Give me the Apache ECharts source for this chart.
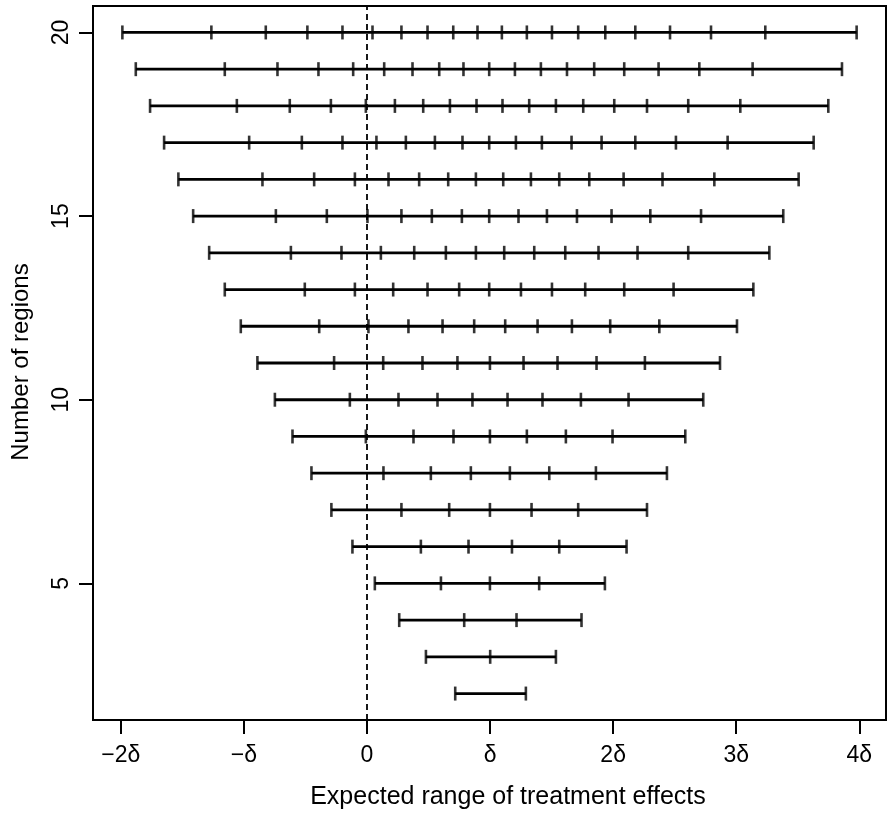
<!DOCTYPE html>
<html><head><meta charset="utf-8">
<script src="https://cdn.jsdelivr.net/npm/echarts@6/dist/echarts.min.js"></script>
<style>html,body{margin:0;padding:0;background:#fff}#c{width:888px;height:813px}</style>
</head><body><div id="c"></div>
<script>
// Expected positions (in units of delta) of the ordered treatment effects, one row per number of regions
const r2  = [0.717, 1.291];
const r3  = [0.479, 1.001, 1.535];
const r4  = [0.262, 0.790, 1.215, 1.743];
const r5  = [0.064, 0.601, 0.999, 1.399, 1.933];
const r6  = [-0.118, 0.438, 0.825, 1.178, 1.562, 2.109];
const r7  = [-0.289, 0.280, 0.668, 0.999, 1.337, 1.716, 2.275];
const r8  = [-0.451, 0.134, 0.519, 0.844, 1.161, 1.481, 1.860, 2.437];
const r9  = [-0.605, -0.009, 0.378, 0.703, 0.999, 1.299, 1.616, 1.995, 2.586];
const r10 = [-0.748, -0.139, 0.256, 0.573, 0.857, 1.142, 1.426, 1.738, 2.125, 2.732];
const r11 = [-0.890, -0.267, 0.132, 0.451, 0.735, 0.999, 1.272, 1.548, 1.865, 2.258, 2.868];
const r12 = [-1.025, -0.388, 0.012, 0.337, 0.614, 0.871, 1.123, 1.386, 1.665, 1.976, 2.375, 3.006];
const r13 = [-1.155, -0.505, -0.098, 0.213, 0.492, 0.749, 0.993, 1.251, 1.503, 1.773, 2.090, 2.491, 3.139];
const r14 = [-1.282, -0.618, -0.207, 0.113, 0.384, 0.641, 0.885, 1.115, 1.359, 1.611, 1.881, 2.198, 2.610, 3.269];
const r15 = [-1.412, -0.740, -0.326, 0.004, 0.280, 0.527, 0.771, 0.993, 1.231, 1.462, 1.706, 1.987, 2.302, 2.714, 3.382];
const r16 = [-1.532, -0.849, -0.429, -0.098, 0.175, 0.424, 0.660, 0.885, 1.107, 1.332, 1.562, 1.806, 2.085, 2.401, 2.822, 3.507];
const r17 = [-1.648, -0.957, -0.529, -0.199, 0.077, 0.316, 0.552, 0.776, 0.993, 1.210, 1.421, 1.662, 1.906, 2.180, 2.510, 2.930, 3.629];
const r18 = [-1.762, -1.057, -0.627, -0.293, -0.009, 0.227, 0.457, 0.674, 0.890, 1.101, 1.318, 1.535, 1.757, 2.009, 2.275, 2.610, 3.033, 3.748];
const r19 = [-1.878, -1.155, -0.727, -0.394, -0.112, 0.140, 0.370, 0.587, 0.784, 0.993, 1.202, 1.413, 1.625, 1.846, 2.090, 2.369, 2.700, 3.133, 3.859];
const r20 = [-1.987, -1.264, -0.822, -0.484, -0.199, 0.045, 0.280, 0.492, 0.701, 0.898, 1.096, 1.299, 1.503, 1.716, 1.936, 2.180, 2.462, 2.795, 3.236, 3.978];

const regionCounts = [2, 3, 4, 5, 6, 7, 8, 9, 10, 11, 12, 13, 14, 15, 16, 17, 18, 19, 20];
const rowTicks = [r2, r3, r4, r5, r6, r7, r8, r9, r10, r11, r12, r13, r14, r15, r16, r17, r18, r19, r20];

const xTickValues = [-2, -1, 0, 1, 2, 3, 4];
const xTickLabels = ['\u22122\u03b4', '\u2212\u03b4', '0', '\u03b4', '2\u03b4', '3\u03b4', '4\u03b4'];
const yTickValues = [5, 10, 15, 20];
const refLineX = 0;
const xTitle = 'Expected range of treatment effects';
const yTitle = 'Number of regions';

const FONT = '"Liberation Sans", Arial, Helvetica, sans-serif';

// R-style 4% axis extension computed from the data
const allX = rowTicks.flat();
const xMinD = Math.min(...allX), xMaxD = Math.max(...allX);
const xExt = (xMaxD - xMinD) * 0.04;
const yMinD = Math.min(...regionCounts), yMaxD = Math.max(...regionCounts);
const yExt = (yMaxD - yMinD) * 0.04;

const chart = echarts.init(document.getElementById('c'), null, {renderer: 'canvas'});

const series = [];
regionCounts.forEach((k, i) => {
  const t = rowTicks[i];
  series.push({
    type: 'line', silent: true, animation: false, symbol: 'none',
    data: [[t[0], k], [t[t.length - 1], k]],
    lineStyle: {color: '#000', width: 2.8}
  });
});
const tickData = [];
regionCounts.forEach((k, i) => rowTicks[i].forEach(v => tickData.push([v, k])));
series.push({
  type: 'scatter', silent: true, animation: false,
  data: tickData, symbol: 'rect', symbolSize: [2.6, 14],
  itemStyle: {color: '#000'},
  markLine: {
    symbol: 'none', silent: true, animation: false,
    label: {show: false},
    lineStyle: {type: [6, 4], color: '#000', width: 1.8},
    data: [{xAxis: refLineX}]
  }
});

chart.setOption({
  animation: false,
  backgroundColor: '#fff',
  grid: {left: 93, right: 2, top: 6, bottom: 93, show: true, borderColor: '#000', borderWidth: 2, containLabel: false},
  xAxis: {
    type: 'value', min: xMinD - xExt, max: xMaxD + xExt,
    axisLine: {show: false, onZero: false}, splitLine: {show: false},
    axisTick: {show: true, length: 14, lineStyle: {width: 2, color: '#000'}, customValues: xTickValues},
    axisLabel: {
      customValues: xTickValues,
      formatter: v => xTickLabels[xTickValues.indexOf(v)],
      fontSize: 23, color: '#000', fontFamily: FONT, margin: 24
    }
  },
  yAxis: {
    type: 'value', min: yMinD - yExt, max: yMaxD + yExt,
    axisLine: {show: false, onZero: false}, splitLine: {show: false},
    axisTick: {show: true, length: 14, lineStyle: {width: 2, color: '#000'}, customValues: yTickValues},
    axisLabel: {
      customValues: yTickValues, rotate: 90,
      fontSize: 23, color: '#000', fontFamily: FONT, margin: 20
    }
  },
  graphic: [
    {type: 'text', x: 508, y: 797, silent: true,
     style: {text: xTitle, font: '25px ' + FONT, fill: '#000', align: 'center', verticalAlign: 'middle'}},
    {type: 'text', x: 21, y: 362, rotation: Math.PI / 2, silent: true,
     style: {text: yTitle, font: '24px ' + FONT, fill: '#000', align: 'center', verticalAlign: 'middle'}}
  ],
  series: series
});
</script>
</body></html>
